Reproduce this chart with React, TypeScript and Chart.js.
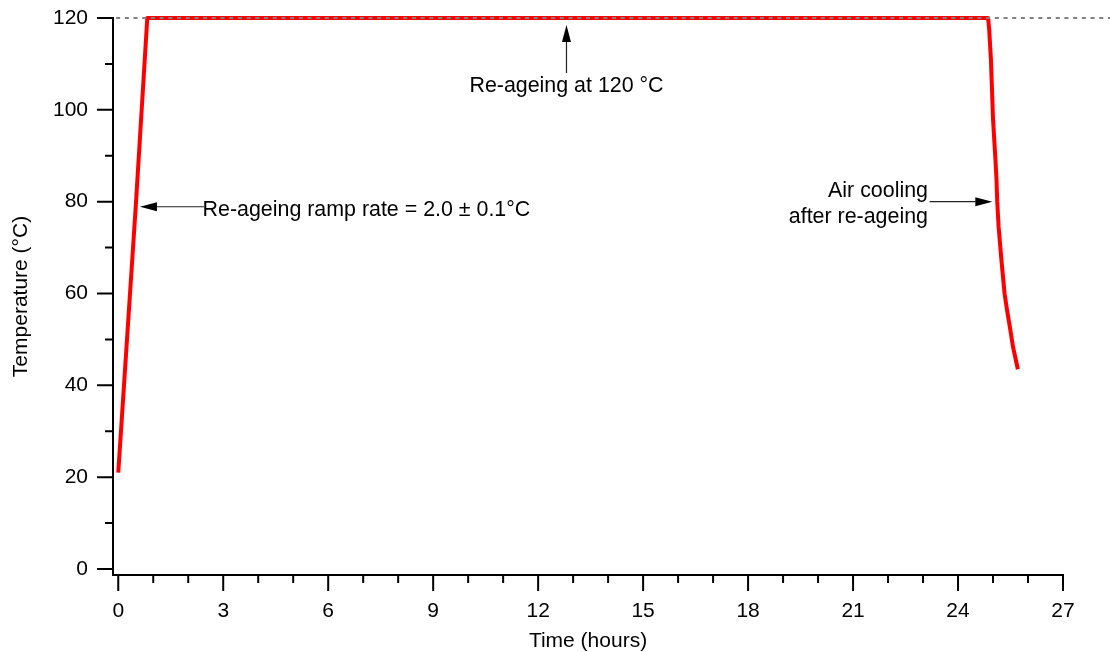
import React, { useEffect, useRef } from 'react';
import { Chart, registerables } from 'chart.js';

Chart.register(...registerables);

// ---- Data ----
const timeHours = [
  0, 0.5, 0.83, 24.86, 24.89, 24.94, 25.0, 25.07, 25.1, 25.12, 25.16, 25.24, 25.33, 25.4, 25.48, 25.57, 25.71,
];
const temperatureC = [
  21, 79, 120, 120, 117.5, 111, 98, 89.1, 84.7, 80, 74.5, 67.3, 60, 56.4, 52.8, 48.4, 43.5,
];

const xMajorTicks = [0, 3, 6, 9, 12, 15, 18, 21, 24, 27];
const xMinorTicks = [1, 2, 4, 5, 7, 8, 10, 11, 13, 14, 16, 17, 19, 20, 22, 23, 25, 26];
const yMajorTicks = [0, 20, 40, 60, 80, 100, 120];
const yMinorTicks = [10, 30, 50, 70, 90, 110];

const referenceTemp = 120;
const referenceStart = -0.06;

const xTitle = 'Time (hours)';
const yTitle = 'Temperature (°C)';

const rampLabel = 'Re-ageing ramp rate = 2.0 ± 0.1°C';
const holdLabel = 'Re-ageing at 120 °C';
const coolLabel = ['Air cooling', 'after re-ageing'];

const FONT = '"Liberation Sans", Arial, Helvetica, sans-serif';

// desired plot-area edges (layout only)
const AREA = { top: 18, right: 1063, bottom: 575, left: 113 };

function drawArrow(ctx: CanvasRenderingContext2D, x1: number, y1: number, x2: number, y2: number) {
  const headLen = 17;
  const headHalf = 4.5;
  const ang = Math.atan2(y2 - y1, x2 - x1);
  const bx = x2 - headLen * Math.cos(ang);
  const by = y2 - headLen * Math.sin(ang);
  ctx.beginPath();
  ctx.moveTo(x1, y1);
  ctx.lineTo(bx, by);
  ctx.strokeStyle = '#222';
  ctx.lineWidth = 1.2;
  ctx.stroke();
  ctx.beginPath();
  ctx.moveTo(x2, y2);
  ctx.lineTo(bx + headHalf * Math.sin(ang), by - headHalf * Math.cos(ang));
  ctx.lineTo(bx - headHalf * Math.sin(ang), by + headHalf * Math.cos(ang));
  ctx.closePath();
  ctx.fillStyle = '#000';
  ctx.fill();
}

const axesPlugin = {
  id: 'customAxes',
  beforeDatasetsDraw(chart: any) {
    const { ctx, chartArea, scales } = chart;
    const x = scales.x;
    const y = scales.y;
    const ax = chartArea.left;
    const ay = chartArea.bottom;
    ctx.save();
    ctx.strokeStyle = '#000';
    ctx.lineWidth = 2;
    ctx.lineCap = 'butt';
    ctx.beginPath();
    ctx.moveTo(ax, y.getPixelForValue(120) - 1);
    ctx.lineTo(ax, ay + 1);
    ctx.moveTo(ax - 1, ay);
    ctx.lineTo(x.getPixelForValue(27) + 1, ay);
    yMajorTicks.forEach((v) => {
      const p = y.getPixelForValue(v);
      ctx.moveTo(ax - 16, p);
      ctx.lineTo(ax, p);
    });
    yMinorTicks.forEach((v) => {
      const p = y.getPixelForValue(v);
      ctx.moveTo(ax - 8, p);
      ctx.lineTo(ax, p);
    });
    xMajorTicks.forEach((v) => {
      const p = x.getPixelForValue(v);
      ctx.moveTo(p, ay);
      ctx.lineTo(p, ay + 16);
    });
    xMinorTicks.forEach((v) => {
      const p = x.getPixelForValue(v);
      ctx.moveTo(p, ay);
      ctx.lineTo(p, ay + 8);
    });
    ctx.stroke();
    ctx.restore();
  },
  afterDatasetsDraw(chart: any) {
    const { ctx, scales } = chart;
    const x = scales.x;
    const y = scales.y;
    ctx.save();
    // dashed reference line at 120 °C
    ctx.strokeStyle = '#808080';
    ctx.lineWidth = 2;
    ctx.setLineDash([4, 4.7]);
    const py = y.getPixelForValue(referenceTemp);
    ctx.beginPath();
    ctx.moveTo(x.getPixelForValue(referenceStart), py);
    ctx.lineTo(chart.width, py);
    ctx.stroke();
    ctx.setLineDash([]);

    // annotations
    ctx.font = `21.4px ${FONT}`;
    ctx.fillStyle = '#000';
    ctx.textBaseline = 'alphabetic';

    // ramp
    drawArrow(ctx, x.getPixelForValue(2.45), y.getPixelForValue(78.9), x.getPixelForValue(0.62), y.getPixelForValue(78.9));
    ctx.textAlign = 'left';
    ctx.fillText(rampLabel, x.getPixelForValue(2.41), y.getPixelForValue(76.9));

    // hold
    drawArrow(ctx, x.getPixelForValue(12.81), y.getPixelForValue(108), x.getPixelForValue(12.81), y.getPixelForValue(118.5));
    ctx.textAlign = 'center';
    ctx.fillText(holdLabel, x.getPixelForValue(12.81), y.getPixelForValue(103.8));

    // cooling
    drawArrow(ctx, x.getPixelForValue(23.19), y.getPixelForValue(80), x.getPixelForValue(24.98), y.getPixelForValue(80));
    ctx.textAlign = 'right';
    ctx.fillText(coolLabel[0], x.getPixelForValue(23.14), y.getPixelForValue(81.07));
    ctx.fillText(coolLabel[1], x.getPixelForValue(23.14), y.getPixelForValue(75.41));
    ctx.restore();
  },
};

export default function App() {
  const canvasRef = useRef<HTMLCanvasElement | null>(null);

  useEffect(() => {
    const canvas = canvasRef.current;
    if (!canvas) return;
    const tickFont = { family: FONT, size: 21, lineHeight: 1.2 };
    const padding = { top: 18, right: 47, left: 0, bottom: 0 };
    const chart = new Chart(canvas, {
      type: 'line',
      data: {
        datasets: [
          {
            data: timeHours.map((t, i) => ({ x: t, y: temperatureC[i] })),
            borderColor: '#ff0000',
            borderWidth: 4,
            pointRadius: 0,
            tension: 0,
            clip: false as any,
            borderJoinStyle: 'round',
          } as any,
        ],
      },
      options: {
        responsive: false,
        animation: false,
        devicePixelRatio: 1,
        layout: { padding, autoPadding: false },
        plugins: { legend: { display: false }, tooltip: { enabled: false } },
        scales: {
          x: {
            type: 'linear',
            min: -0.15,
            max: 27,
            afterFit: (s: any) => {
              s.height = 77;
              s.paddingLeft = 0;
              s.paddingRight = 0;
            },
            afterBuildTicks: (s: any) => {
              s.ticks = xMajorTicks.map((v) => ({ value: v }));
            },
            grid: { display: false, drawTicks: false },
            border: { display: false },
            ticks: {
              padding: 24,
              color: '#000',
              font: tickFont,
              autoSkip: false,
              maxRotation: 0,
              callback: (v: any) => String(v),
            },
            title: {
              display: true,
              text: xTitle,
              color: '#000',
              font: { family: FONT, size: 21, lineHeight: 1 },
              padding: { top: 0, bottom: 0 },
            },
          },
          y: {
            type: 'linear',
            min: -1.3,
            max: 120,
            afterFit: (s: any) => {
              s.width = 113;
              s.paddingTop = 0;
              s.paddingBottom = 0;
            },
            afterBuildTicks: (s: any) => {
              s.ticks = yMajorTicks.map((v) => ({ value: v }));
            },
            grid: { display: false, drawTicks: false },
            border: { display: false },
            ticks: {
              padding: 25,
              color: '#000',
              font: tickFont,
              autoSkip: false,
              callback: (v: any) => String(v),
            },
            title: {
              display: true,
              text: yTitle,
              color: '#000',
              font: { family: FONT, size: 21, lineHeight: 1 },
              padding: { top: 11, bottom: 0 },
            },
          },
        },
      } as any,
      plugins: [axesPlugin],
    });
    // nudge layout padding so the plot area lands where the reference has it
    for (let i = 0; i < 3; i++) {
      const ca = chart.chartArea;
      const dTop = AREA.top - ca.top;
      const dRight = ca.right - AREA.right;
      const dBottom = ca.bottom - AREA.bottom;
      if (Math.abs(dTop) < 0.5 && Math.abs(dRight) < 0.5 && Math.abs(dBottom) < 0.5) break;
      padding.top = Math.max(0, padding.top + dTop);
      padding.right = Math.max(0, padding.right + dRight);
      padding.bottom = Math.max(0, padding.bottom + dBottom);
      (chart.options as any).layout.padding = { ...padding };
      chart.update();
    }
    return () => chart.destroy();
  }, []);

  return (
    <div style={{ position: 'absolute', left: 0, top: 0, width: 1110, height: 652, background: '#fff' }}>
      <canvas ref={canvasRef} width={1110} height={652} style={{ display: 'block' }} />
    </div>
  );
}
